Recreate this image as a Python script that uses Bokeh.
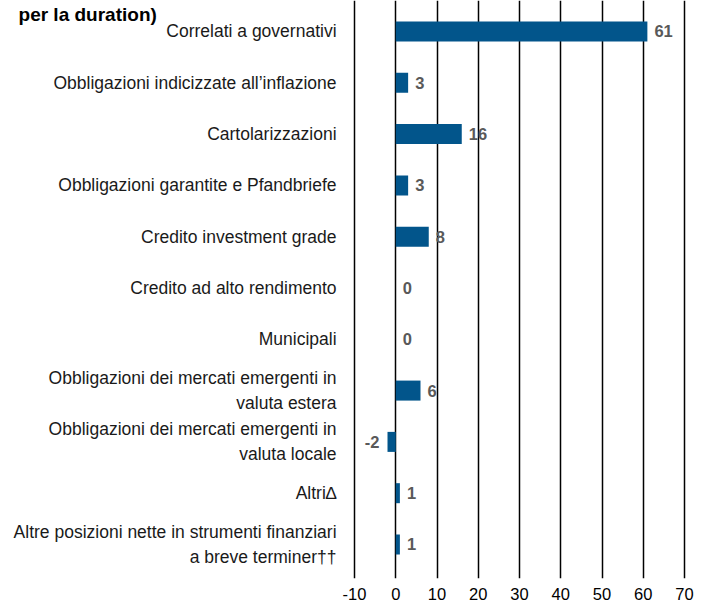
from bokeh.plotting import figure
from bokeh.models import ColumnDataSource, FixedTicker, Range1d
from bokeh.core.properties import value
from bokeh.embed import file_html
from bokeh.resources import INLINE

categories = [
    "Correlati a governativi",
    "Obbligazioni indicizzate all\u2019inflazione",
    "Cartolarizzazioni",
    "Obbligazioni garantite e Pfandbriefe",
    "Credito investment grade",
    "Credito ad alto rendimento",
    "Municipali",
    "Obbligazioni dei mercati emergenti in\nvaluta estera",
    "Obbligazioni dei mercati emergenti in\nvaluta locale",
    "Altri\u2206",
    "Altre posizioni nette in strumenti finanziari\na breve terminer\u2020\u2020",
]
values = [61, 3, 16, 3, 8, 0, 0, 6, -2, 1, 1]
x_ticks = [-10, 0, 10, 20, 30, 40, 50, 60, 70]
x_tick_labels = ["-10", "0", "10", "20", "30", "40", "50", "60", "70"]
title_text = "per la duration)"

FONT = "Liberation Sans"
BAR = "#02558B"
LABEL_X = -14.36      # anchor (data units) of the right edge of category labels
TITLE_X, TITLE_Y = -91.45, -0.33

pos = list(range(len(categories)))
src = ColumnDataSource(dict(
    y=pos,
    v=values,
    cat=categories,
    lbl=[str(v) for v in values],
    align=["right" if v < 0 else "left" for v in values],
    xo=[-8 if v < 0 else 7 for v in values],
))

p = figure(
    width=709, height=606,
    x_range=Range1d(-95.82, 76.06),
    y_range=Range1d(10.663, -0.604),
    output_backend="svg", toolbar_location=None,
    min_border_left=0, min_border_right=0,
    min_border_top=0, min_border_bottom=28,
    background_fill_color="white", border_fill_color="white",
)
p.outline_line_color = None
p.yaxis.visible = False

p.ygrid.grid_line_color = None
p.xgrid.ticker = FixedTicker(ticks=x_ticks)
p.xgrid.grid_line_color = "black"
p.xgrid.grid_line_width = 1.5

p.hbar(y="y", left=0, right="v", height=0.39, source=src,
       fill_color=BAR, line_color=None)
p.text(x="v", y="y", text="lbl", source=src,
       text_align="align", x_offset="xo", text_baseline="middle",
       text_font=value(FONT), text_font_style="bold",
       text_font_size="16.5px", text_color="#595959")
p.text(x=LABEL_X, y="y", text="cat", source=src,
       text_align="right", text_baseline="middle",
       text_font=value(FONT), text_font_size="17.5px",
       text_color="#1a1a1a", text_line_height=1.25)
p.text(x=[TITLE_X], y=[TITLE_Y], text=[title_text],
       text_align="left", text_baseline="alphabetic",
       text_font=value(FONT), text_font_style="bold",
       text_font_size="19px", text_color="black")

xa = p.xaxis[0]
xa.ticker = FixedTicker(ticks=x_ticks)
xa.major_label_overrides = {t: s for t, s in zip(x_ticks, x_tick_labels)}
xa.axis_line_color = None
xa.major_tick_line_color = None
xa.minor_tick_line_color = None
xa.major_label_standoff = 3
xa.major_label_text_font = FONT
xa.major_label_text_font_size = "16.5px"
xa.major_label_text_color = "black"

open("out.html", "w").write(file_html(p, INLINE))
